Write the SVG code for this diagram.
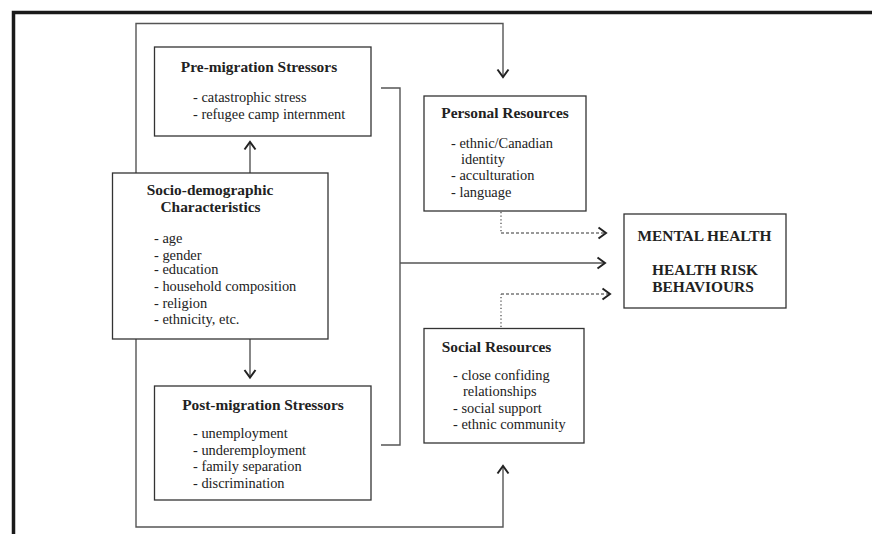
<svg xmlns="http://www.w3.org/2000/svg" width="872" height="534" viewBox="0 0 872 534">
<style>
.box{fill:#fff;stroke:#333;stroke-width:1.3}
.ln{fill:none;stroke:#555;stroke-width:1.4}
.dot{fill:none;stroke:#444;stroke-width:1.2;stroke-dasharray:1.2 2.4}
.dash{fill:none;stroke:#333;stroke-width:1.1;stroke-dasharray:3 2}
.hd{fill:none;stroke:#222;stroke-width:2;stroke-linejoin:miter}
.t{font-family:"Liberation Serif","Times New Roman",serif;font-weight:bold;font-size:15.4px;fill:#222}
.i{font-family:"Liberation Serif","Times New Roman",serif;font-size:14.4px;fill:#222}
.c{text-anchor:middle}
</style>
<rect width="872" height="534" fill="#fff"/>
<g id="frame">
<path d="M872 12.5 H13.5 V534" fill="none" stroke="#1a1a1a" stroke-width="3.5"/>
</g>
<g id="connectors">
<path class="ln" d="M136 173 V23.5 H503 V76"/>
<path class="hd" d="M497.5 69.5 L503 77 L508.5 69.5"/>
<path class="ln" d="M136 339 V527 H503 V467"/>
<path class="hd" d="M497.5 473.5 L503 466 L508.5 473.5"/>
<path class="ln" d="M250 173 V143"/>
<path class="hd" d="M244.5 149.5 L250 142 L255.5 149.5"/>
<path class="ln" d="M250 339 V376"/>
<path class="hd" d="M244.5 370 L250 377.5 L255.5 370"/>
<path class="ln" d="M381 88 H400 V445 H381"/>
<path class="ln" d="M400 263 H604"/>
<path class="hd" d="M597.5 257.5 L605 263 L597.5 268.5"/>
<path class="dot" d="M501 212 V233"/>
<path class="dash" d="M501 233 H605"/>
<path class="hd" d="M598.5 227.5 L606 233 L598.5 238.5"/>
<path class="dot" d="M501 327 V294"/>
<path class="dash" d="M501 294 H609"/>
<path class="hd" d="M602.5 288.5 L610 294 L602.5 299.5"/>
</g>
<g id="pre-migration">
<rect class="box" x="154.5" y="47" width="216.5" height="89"/>
<text class="t c" x="259" y="72">Pre-migration Stressors</text>
<text class="i" x="193" y="102">- catastrophic stress</text>
<text class="i" x="193" y="118.5">- refugee camp internment</text>
</g>
<g id="socio-demographic">
<rect class="box" x="112.5" y="173" width="215.5" height="166"/>
<text class="t c" x="210" y="195">Socio-demographic</text>
<text class="t c" x="210.5" y="212">Characteristics</text>
<text class="i" x="154" y="243">- age</text>
<text class="i" x="154" y="259.5">- gender</text>
<text class="i" x="154" y="274">- education</text>
<text class="i" x="154" y="291">- household composition</text>
<text class="i" x="154" y="307.5">- religion</text>
<text class="i" x="154" y="324">- ethnicity, etc.</text>
</g>
<g id="post-migration">
<rect class="box" x="154.5" y="386" width="216.5" height="114"/>
<text class="t c" x="263" y="410">Post-migration Stressors</text>
<text class="i" x="193" y="438">- unemployment</text>
<text class="i" x="193" y="454.5">- underemployment</text>
<text class="i" x="193" y="471">- family separation</text>
<text class="i" x="193" y="487.5">- discrimination</text>
</g>
<g id="personal-resources">
<rect class="box" x="424" y="96" width="162" height="115"/>
<text class="t c" x="505" y="118">Personal Resources</text>
<text class="i" x="451" y="147.5">- ethnic/Canadian</text>
<text class="i" x="461" y="163.5">identity</text>
<text class="i" x="451" y="180">- acculturation</text>
<text class="i" x="451" y="197">- language</text>
</g>
<g id="social-resources">
<rect class="box" x="424" y="328.5" width="160" height="114.5"/>
<text class="t c" x="496.5" y="351.5">Social Resources</text>
<text class="i" x="453" y="379.5">- close confiding</text>
<text class="i" x="463" y="396">relationships</text>
<text class="i" x="453" y="412.5">- social support</text>
<text class="i" x="453" y="429">- ethnic community</text>
</g>
<g id="outcomes">
<rect class="box" x="624" y="214" width="162" height="94"/>
<text class="t c" x="704.5" y="240.5">MENTAL HEALTH</text>
<text class="t c" x="705" y="274.5">HEALTH RISK</text>
<text class="t c" x="703" y="292">BEHAVIOURS</text>
</g>
</svg>
